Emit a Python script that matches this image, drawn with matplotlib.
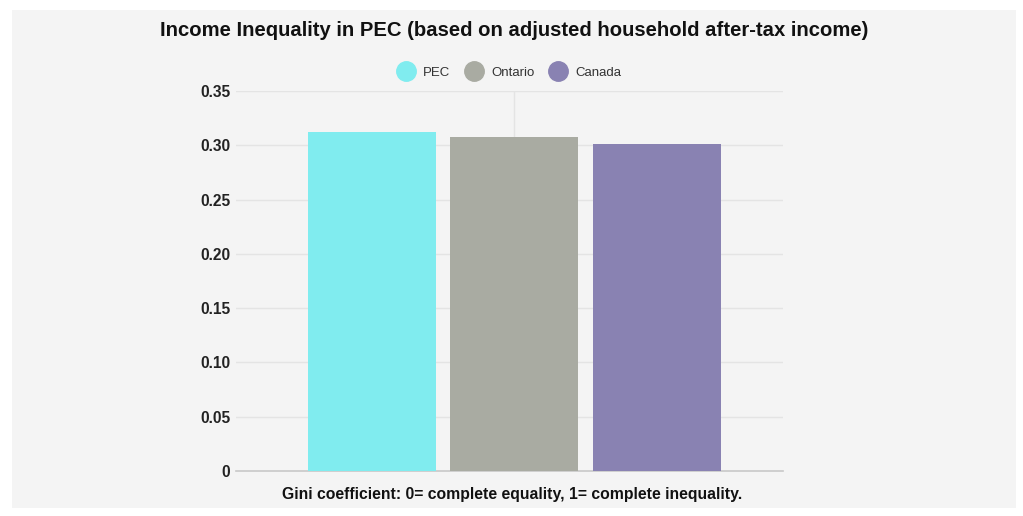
import matplotlib
matplotlib.use("Agg")
import matplotlib.pyplot as plt
from matplotlib.patches import Rectangle
from matplotlib.lines import Line2D

plt.rcParams['font.family'] = ['Liberation Sans', 'DejaVu Sans']

series = ["PEC", "Ontario", "Canada"]
values = [0.312, 0.308, 0.301]
colors = ["#80ecef", "#a9aba2", "#8982b2"]
yticks = [0, 0.05, 0.10, 0.15, 0.20, 0.25, 0.30, 0.35]
ytick_labels = ["0", "0.05", "0.10", "0.15", "0.20", "0.25", "0.30", "0.35"]
title = "Income Inequality in PEC (based on adjusted household after-tax income)"
xlabel = "Gini coefficient: 0= complete equality, 1= complete inequality."

W, H = 1023, 516
fig = plt.figure(figsize=(W / 100, H / 100), dpi=100)
fig.patch.set_facecolor("white")
fig.patches.append(Rectangle((12 / W, 1 - 508 / H), (1016 - 12) / W, (508 - 10) / H,
                             transform=fig.transFigure, facecolor="#f4f4f4",
                             edgecolor="none", zorder=-10))

left, right, top, bottom = 236, 783, 91, 471
ax = fig.add_axes([left / W, 1 - bottom / H, (right - left) / W, (bottom - top) / H])
ax.set_facecolor("none")
ax.set_zorder(5)

center = 514
bar_w = 128
step = 142.5
for i, (name, v, c) in enumerate(zip(series, values, colors)):
    x = center + (i - 1) * step
    ax.bar(x, v, width=bar_w, color=c, zorder=3)

ax.set_xlim(left, right)
ax.set_ylim(0, 0.35)
ax.set_yticks(yticks)
ax.set_yticklabels(ytick_labels, fontsize=11.2, fontweight="bold", color="#222222")
ax.set_xticks([])
for y in yticks[1:]:
    ax.axhline(y, color="#e4e4e4", lw=1, zorder=1)
ax.axvline(center, color="#e4e4e4", lw=1, zorder=1)
for s in ["top", "right", "left"]:
    ax.spines[s].set_visible(False)
ax.spines["bottom"].set_color("#c8c8c8")
ax.spines["bottom"].set_linewidth(1.2)
ax.tick_params(axis="y", length=0, pad=4)

fig.text(514 / W, 1 - 31 / H, title, ha="center", va="center",
         fontsize=14.6, fontweight="bold", color="#111111")
fig.text(512 / W, 1 - 495 / H, xlabel, ha="center", va="center",
         fontsize=11.3, fontweight="bold", color="#111111")

handles = [Line2D([], [], marker="o", linestyle="none", markersize=14,
                  markerfacecolor=c, markeredgecolor=c, label=n)
           for n, c in zip(series, colors)]
fig.legend(handles=handles, loc="center", bbox_to_anchor=(507 / W, 1 - 73 / H),
           ncol=3, frameon=False, fontsize=9.5, handletextpad=0.3,
           columnspacing=0.8, labelcolor="#333333")

fig.savefig("out.png", dpi=100, facecolor="white")
